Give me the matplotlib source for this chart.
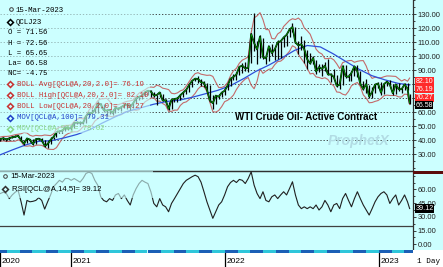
import numpy as np
import pandas as pd
import matplotlib
matplotlib.use("Agg")
import matplotlib.pyplot as plt
import matplotlib.dates as mdates
from matplotlib.patches import Rectangle
from matplotlib.ticker import MultipleLocator, FuncFormatter
from matplotlib.transforms import blended_transform_factory

# weekly bars (Fridays), the last bar is 15-Mar-2023
close = [40.6, 41.3, 40.3, 41.2, 42.0, 42.3, 43.0, 39.8, 37.3, 41.1, 40.3, 37.1,
         40.6, 40.9, 39.9, 35.8, 37.1, 40.1, 42.2, 45.5, 46.3, 46.6, 49.1, 48.2,
         48.5, 52.2, 52.4, 52.3, 52.2, 56.9, 59.5, 59.2, 61.5, 66.1, 65.6, 61.4,
         61.0, 61.5, 59.3, 63.1, 62.1, 63.6, 64.9, 65.4, 63.6, 66.3, 69.6, 70.9,
         71.6, 74.1, 75.2, 74.6, 71.8, 72.1, 74.0, 68.3, 68.4, 62.3, 68.7, 69.3,
         69.7, 72.0, 74.0, 75.9, 79.4, 82.3, 83.8, 83.6, 81.3, 80.8, 76.1, 68.2,
         66.3, 71.7, 70.9, 73.8, 75.2,
         78.9, 83.8, 85.1, 86.8, 92.3, 93.1, 91.1, 91.6, 115.7, 109.3, 104.7, 113.9,
         99.3, 98.3, 107.0, 102.1, 104.7, 109.8, 110.5, 113.2, 115.1, 118.9, 120.7, 109.6,
         107.6, 108.4, 104.8, 97.6, 94.7, 98.6, 89.0, 92.1, 90.8, 93.1, 86.9, 86.8,
         85.1, 78.7, 79.5, 92.6, 85.6, 85.1, 87.9, 92.6, 89.0, 80.1, 76.3, 80.0,
         71.0, 74.3, 79.6, 80.3,
         73.8, 79.9, 81.6, 79.7, 73.4, 79.7, 76.3, 76.3, 79.7, 76.7, 66.58]
high = [41.5, 42.0, 41.6, 42.4, 43.0, 43.3, 43.8, 43.2, 40.0, 41.5, 41.0, 40.9,
        41.4, 41.5, 41.6, 39.9, 39.0, 41.9, 42.4, 45.8, 46.7, 47.3, 49.3, 49.4,
        49.5, 52.8, 53.9, 53.5, 53.5, 57.0, 60.0, 62.3, 63.8, 67.9, 66.4, 65.5,
        62.3, 62.0, 61.9, 63.8, 63.9, 64.3, 66.0, 66.5, 65.7, 67.0, 69.8, 70.9,
        72.0, 74.2, 76.0, 75.5, 74.2, 72.3, 74.2, 72.9, 69.3, 67.2, 69.0, 70.0,
        70.4, 73.0, 74.5, 76.7, 79.8, 82.4, 84.0, 85.4, 83.3, 82.0, 80.4, 79.0,
        72.0, 72.3, 73.0, 74.0, 77.0,
        80.0, 84.0, 87.0, 88.8, 93.2, 94.7, 95.8, 100.5, 116.6, 130.5, 110.4, 115.0,
        113.0, 100.7, 107.0, 108.5, 106.0, 111.4, 110.8, 114.0, 115.1, 119.5, 123.7, 121.0,
        111.0, 114.0, 111.5, 104.0, 102.0, 100.0, 97.0, 94.0, 94.3, 95.5, 97.6, 88.0,
        90.4, 86.6, 83.5, 93.6, 93.6, 87.0, 89.0, 93.0, 93.7, 89.0, 82.0, 83.3,
        79.6, 77.7, 80.3, 81.5,
        81.5, 80.0, 82.4, 82.7, 79.7, 80.1, 80.6, 77.0, 80.9, 80.9, 72.56]
low = [39.6, 40.3, 39.2, 40.0, 41.3, 41.8, 42.2, 39.2, 36.2, 37.8, 38.8, 36.6,
       37.5, 39.8, 38.7, 34.9, 34.0, 37.0, 40.5, 42.5, 44.8, 45.2, 46.6, 46.9,
       47.2, 48.4, 51.4, 51.0, 51.4, 52.5, 56.4, 58.4, 59.0, 59.3, 63.1, 60.0,
       57.3, 58.6, 58.1, 59.5, 61.2, 60.5, 63.2, 62.0, 61.6, 63.2, 66.3, 68.3,
       69.5, 71.5, 72.4, 70.8, 70.5, 65.0, 71.0, 67.8, 66.1, 61.7, 62.2, 67.5,
       67.1, 68.3, 70.8, 73.0, 74.5, 78.0, 81.8, 81.0, 78.3, 78.2, 75.6, 67.4,
       62.4, 66.0, 69.1, 70.6, 72.5,
       75.5, 78.5, 82.7, 83.1, 86.5, 87.7, 89.3, 88.8, 94.8, 103.5, 94.0, 98.8,
       98.2, 94.0, 96.3, 100.0, 97.3, 97.8, 98.5, 106.7, 107.5, 113.5, 117.5, 109.1,
       101.5, 104.0, 95.1, 90.6, 94.0, 94.0, 87.0, 88.3, 85.7, 89.5, 86.1, 81.2,
       83.6, 78.1, 76.3, 79.3, 84.0, 82.1, 82.1, 86.0, 85.0, 79.7, 76.0, 73.6,
       70.1, 70.3, 73.5, 77.2,
       72.5, 73.0, 78.8, 78.7, 72.5, 73.2, 75.1, 73.8, 75.5, 76.0, 65.65]

rsi = [55.6, 57.0, 55.6, 50.0, 54.0, 57.0, 59.0, 46.5, 32.0, 48.0,
       46.5, 47.0, 48.0, 51.0, 48.0, 38.5, 46.5, 54.0, 63.0, 66.5,
       70.0, 68.0, 72.0, 72.0, 70.0, 72.0, 70.0, 68.0, 72.0, 77.5,
       79.0, 77.5, 70.0, 64.7, 52.0, 48.0, 46.5, 50.0, 48.0, 54.0,
       55.6, 50.0, 54.0, 48.0, 43.0, 54.0, 61.0, 66.5, 70.0, 68.0,
       66.5, 57.5, 44.7, 41.0, 50.0, 43.0, 41.0, 35.6, 44.7, 50.0,
       55.6, 61.0, 66.5, 70.0, 72.0, 74.0, 75.6, 74.0, 68.0, 57.5,
       46.5, 37.5, 28.4, 35.6, 43.0, 46.5, 54.0, 63.0, 67.6, 70.0,
       67.6, 71.0, 70.0, 66.5, 72.0, 79.3, 64.7, 55.6, 50.0, 57.5,
       48.0, 46.5, 52.0, 54.0, 50.0, 54.0, 57.5, 54.0, 61.0, 68.4,
       54.0, 43.0, 39.0, 41.0, 39.0, 41.0, 39.0, 43.0, 37.5, 41.0,
       48.0, 43.0, 35.6, 43.0, 44.7, 39.0, 50.0, 55.6, 48.0, 41.0,
       50.0, 57.5, 50.0, 43.0, 37.5, 32.0, 39.0, 46.5, 52.0, 55.6,
       57.5, 54.0, 44.7, 50.0, 54.0, 43.0, 48.0, 54.0, 46.5, 39.12]

# 100 day moving average, read at mid-month points
ma100_dates = ['2020-07-17', '2020-08-15', '2020-09-15', '2020-10-15', '2020-11-15',
               '2020-12-15', '2021-01-15', '2021-02-15', '2021-03-15', '2021-04-15',
               '2021-05-15', '2021-06-15', '2021-07-15', '2021-08-15', '2021-09-15',
               '2021-10-15', '2021-11-15', '2021-12-15', '2022-01-15', '2022-02-15',
               '2022-03-15', '2022-04-15', '2022-05-15', '2022-06-15', '2022-07-15',
               '2022-08-15', '2022-09-15', '2022-10-15', '2022-11-15', '2022-12-15',
               '2023-01-15', '2023-02-15', '2023-03-15']
ma100_vals = [29.5, 33.0, 36.5, 39.0, 39.5, 41.5, 44.0, 47.5, 52.0, 56.5,
              60.5, 63.0, 65.5, 67.5, 68.5, 70.5, 73.0, 75.5, 79.0, 84.0,
              89.0, 93.5, 98.5, 104.0, 107.5, 106.5, 101.5, 96.0, 90.5, 86.0,
              83.0, 80.5, 79.31]

price_ticks = [30, 40, 50, 60, 70, 80, 90, 100, 110, 120, 130]
rsi_ticks = [0, 15, 30, 45, 60]
year_labels = ['2020', '2021', '2022', '2023']
year_starts = ['2020-07-16', '2021-01-01', '2022-01-01', '2023-01-01']

legend_rows = ['O = 71.56', 'H = 72.56', 'L = 65.65', 'La= 66.58', 'NC= -4.75']
study_rows = ['BOLL Avg[QCL@A,20,2.0]= 76.19', 'BOLL High[QCL@A,20,2.0]= 82.10',
              'BOLL Low[QCL@A,20,2.0]= 70.27', 'MOV[QCL@A,100]= 79.31',
              'MOV[QCL@A,50]= 78.02']
tags = [(82.10, '#ff2a2a'), (76.19, '#ff2a2a'), (70.27, '#ff2a2a'), (66.58, 'black')]

dates = list(pd.date_range('2020-07-17', periods=len(close) - 1, freq='7D'))
dates.append(pd.Timestamp('2023-03-15'))
dates = pd.DatetimeIndex(dates)

# bollinger bands, 4 weeks (~20 days), spread from the weekly high/low/close
c = np.array(close); h = np.array(high); l = np.array(low)
upper, lower = [], []
for i in range(len(c)):
    j = max(0, i - 3)
    mid = c[j:i + 1].mean()
    sd = np.concatenate([h[j:i + 1], l[j:i + 1], c[j:i + 1]]).std()
    upper.append(mid + 2 * sd)
    lower.append(mid - 2 * sd)

# value tags on the price scale, stacked so that they just touch
step = 7.6 / 1.4
tag_pos = []
for val, col in tags:
    ypos = val if not tag_pos else min(val, tag_pos[-1] - step)
    tag_pos.append(ypos)

BG = '#ccffff'
W, H = 443, 267
AXR = 413
mono = ['Liberation Mono', 'DejaVu Sans Mono']
sans = ['Liberation Sans', 'DejaVu Sans']

fig = plt.figure(figsize=(W / 100, H / 100), dpi=100, facecolor=BG)

def box(top, bottom, left=0, right=AXR):
    return [left / W, 1 - bottom / H, (right - left) / W, (bottom - top) / H]

x0 = mdates.date2num(pd.Timestamp('2020-07-16'))
x1 = mdates.date2num(pd.Timestamp('2023-03-23'))

# ---- price panel
ax = fig.add_axes(box(0, 171))
ax.set_facecolor(BG)
ax.set_xlim(x0, x1)
ax.set_ylim(17.86, 140)
for v in price_ticks:
    ax.axhline(v, color='#303030', lw=0.6, ls=(0, (1.6, 2.2)), zorder=1)
ax.plot(dates, upper, color='#c46a6a', lw=0.8, zorder=2)
ax.plot(dates, lower, color='#c46a6a', lw=0.8, zorder=2)
ax.plot(pd.to_datetime(ma100_dates), ma100_vals, color='#2f4fd8', lw=0.9, zorder=2)
ax.vlines(dates, low, high, color='black', lw=0.9, zorder=3)
ax.plot(dates, close, color='black', lw=1.3, zorder=3)
ax.plot(dates, close, color='#00b400', lw=0.5, zorder=4)

# labels hidden behind a value tag are left blank
def price_fmt(v, pos):
    if any(abs(v - t) < 3.5 for t in tag_pos):
        return ''
    return f'{v:.2f}'

ax.yaxis.tick_right()
ax.set_yticks(price_ticks)
ax.yaxis.set_major_formatter(FuncFormatter(price_fmt))
ax.yaxis.set_minor_locator(MultipleLocator(5))
ax.set_xticks([])
ax.tick_params(axis='y', which='both', direction='out', length=2.2, width=0.6,
               pad=1.0, labelsize=5.4, colors='#202020')
ax.tick_params(axis='y', which='minor', length=1.5)
for lbl in ax.get_yticklabels():
    lbl.set_family(sans)
for s in ['left', 'top']:
    ax.spines[s].set_visible(False)
for s in ['right', 'bottom']:
    ax.spines[s].set_color('#303030')
    ax.spines[s].set_linewidth(0.9)

def pm(px, py):
    return px / AXR, (171 - py) / 171

ax.add_patch(Rectangle((0, pm(0, 133)[1]), 150 / AXR, 1 - pm(0, 133)[1],
                       transform=ax.transAxes, facecolor=BG, alpha=0.62,
                       lw=0, zorder=5))

def diamond(axis, xy, color):
    axis.plot([xy[0]], [xy[1]], marker='D', ms=3.0, mfc=BG, mec=color, mew=1.1,
              transform=axis.transAxes, clip_on=False, zorder=7)

def magnifier(axis, xy):
    axis.plot([xy[0]], [xy[1]], marker='o', ms=2.6, mfc='none', mec='#404040',
              mew=0.7, transform=axis.transAxes, clip_on=False, zorder=7)

magnifier(ax, pm(11, 9))
ax.text(*pm(15, 10), '15-Mar-2023', transform=ax.transAxes, family=mono,
        fontsize=5.3, va='center', zorder=8)
diamond(ax, pm(10, 22), 'black')
ax.text(*pm(16, 22), 'QCLJ23', transform=ax.transAxes, family=mono,
        fontsize=5.3, va='center', zorder=8)
for k, row in enumerate(legend_rows):
    ax.text(*pm(8, 33 + k * 10.2), row, transform=ax.transAxes, family=mono,
            fontsize=5.3, va='center', zorder=8)
study_colors = ['#c83030', '#c83030', '#c83030', '#2040c8', '#86d686']
for k, (row, col) in enumerate(zip(study_rows, study_colors)):
    y = 84 + k * 11.2
    diamond(ax, pm(10, y), col)
    ax.text(*pm(17, y), row, transform=ax.transAxes, family=mono,
            fontsize=5.3, va='center', color=col, zorder=8)

ax.text(*pm(306, 117), 'WTI Crude Oil- Active Contract', transform=ax.transAxes,
        family=sans, fontsize=7.0, fontweight='bold', ha='center', va='center',
        zorder=6)
ax.text(*pm(359, 141), 'ProphetX', transform=ax.transAxes, family=sans,
        fontsize=10, fontweight='bold', style='italic', color='#b2dce4',
        ha='center', va='center', zorder=1)

tag_tr = blended_transform_factory(ax.transAxes, ax.transData)
for (val, col), ypos in zip(tags, tag_pos):
    ax.text(1.006, ypos, f'{val:.2f}', transform=tag_tr, family=sans, fontsize=5.0,
            color='white', va='center', ha='left', clip_on=False, zorder=10,
            bbox=dict(boxstyle='square,pad=0.06', fc=col, ec='none'))

# ---- RSI panel
ar = fig.add_axes(box(171, 249.5))
ar.set_facecolor(BG)
ar.set_xlim(x0, x1)
ar.set_ylim(-5.7, 80.2)
ar.axhline(80, color='#404040', lw=0.9, zorder=1)
ar.axhline(20, color='#404040', lw=0.9, zorder=1)
ar.plot(dates, rsi, color='#202020', lw=0.8, zorder=3)
ar.yaxis.tick_right()
ar.set_yticks(rsi_ticks)
ar.yaxis.set_major_formatter(FuncFormatter(lambda v, pos: f'{v:.2f}'))
ar.yaxis.set_minor_locator(MultipleLocator(7.5))
ar.set_xticks([])
ar.tick_params(axis='y', which='both', direction='out', length=2.2, width=0.6,
               pad=1.0, labelsize=5.4, colors='#202020')
ar.tick_params(axis='y', which='minor', length=1.5)
for lbl in ar.get_yticklabels():
    lbl.set_family(sans)
for s in ['left', 'bottom']:
    ar.spines[s].set_visible(False)
for s in ['right', 'top']:
    ar.spines[s].set_color('#303030')
    ar.spines[s].set_linewidth(0.9)

def pr(px, py):
    return px / AXR, (249.5 - py) / 78.5

ar.add_patch(Rectangle((0, pr(0, 198)[1]), 153 / AXR, 1 - pr(0, 198)[1],
                       transform=ar.transAxes, facecolor=BG, alpha=0.62,
                       lw=0, zorder=5))
magnifier(ar, pr(5, 176))
ar.text(*pr(10, 176.5), '15-Mar-2023', transform=ar.transAxes, family=sans,
        fontsize=5.6, va='center', zorder=8)
diamond(ar, pr(5, 189), '#303030')
ar.text(*pr(12.5, 189.5), 'RSI[QCL@A,14,5]= 39.12', transform=ar.transAxes,
        family=sans, fontsize=5.6, va='center', zorder=8)
rtag_tr = blended_transform_factory(ar.transAxes, ar.transData)
ar.text(1.006, rsi[-1], f'{rsi[-1]:.2f}', transform=rtag_tr, family=sans,
        fontsize=5.2, color='white', va='center', ha='left', clip_on=False,
        zorder=10, bbox=dict(boxstyle='square,pad=0.08', fc='black', ec='none'))

fig.add_artist(Rectangle((AXR / W, 1 - 174 / H), 1 - AXR / W, 3 / H,
                         transform=fig.transFigure, color='#5c0c0c', lw=0))

# ---- month strip
ast = fig.add_axes(box(249.5, 253))
ast.set_xlim(x0, x1)
months = pd.date_range('2020-07-01', '2023-05-01', freq='MS')
for i in range(len(months) - 1):
    ast.axvspan(months[i], months[i + 1], color='#1b5fb6' if i % 2 == 0 else '#2ec6da',
                lw=0)
ast.axis('off')

# ---- year labels
ay = fig.add_axes(box(253, 267))
ay.set_facecolor('white')
ay.set_xlim(x0, x1)
ay.set_ylim(0, 1)
for lab, start in zip(year_labels, year_starts):
    ay.axvline(pd.Timestamp(start), color='black', lw=0.9)
    ay.text(pd.Timestamp(start) + pd.Timedelta(days=4), 0.42, lab, family=sans,
            fontsize=6.0, va='center', ha='left')
ay.set_xticks([]); ay.set_yticks([])
for s in ay.spines.values():
    s.set_visible(False)

ac = fig.add_axes(box(249.5, 267, AXR, W))
ac.set_facecolor('white')
ac.set_xticks([]); ac.set_yticks([])
for s in ac.spines.values():
    s.set_visible(False)
ac.text(0.13, 0.3, '1 Day', family=mono, fontsize=5.5, va='center', ha='left')

fig.savefig('out.png', dpi=100, facecolor=BG)
